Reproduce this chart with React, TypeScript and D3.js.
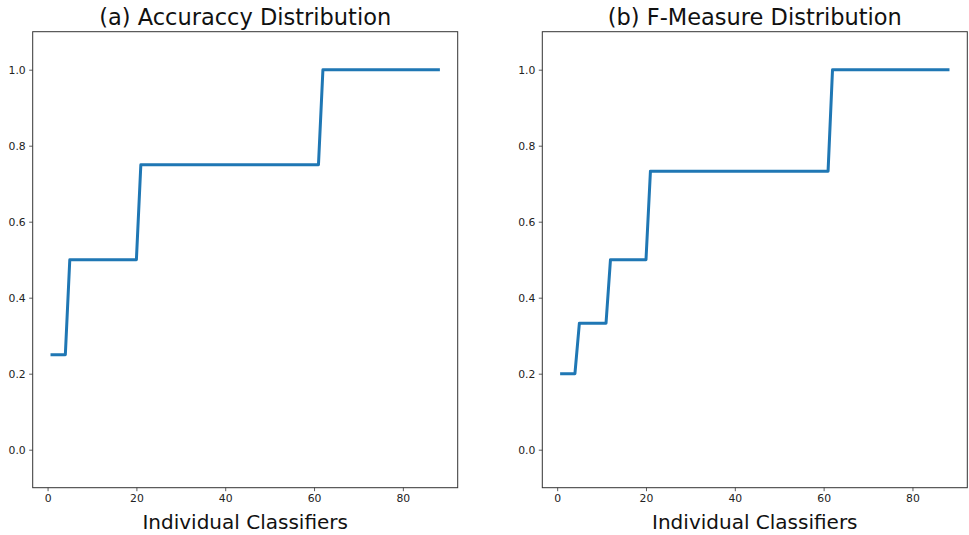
import * as d3 from 'd3';
import React, { useEffect, useRef } from 'react';

// classifier index 1..88
const classifiers = [
  1, 2, 3, 4, 5, 6, 7, 8, 9, 10, 11, 12, 13, 14, 15, 16, 17, 18, 19, 20,
  21, 22, 23, 24, 25, 26, 27, 28, 29, 30, 31, 32, 33, 34, 35, 36, 37, 38, 39, 40,
  41, 42, 43, 44, 45, 46, 47, 48, 49, 50, 51, 52, 53, 54, 55, 56, 57, 58, 59, 60,
  61, 62, 63, 64, 65, 66, 67, 68, 69, 70, 71, 72, 73, 74, 75, 76, 77, 78, 79, 80,
  81, 82, 83, 84, 85, 86, 87, 88,
];

const accuracy = [
  0.25, 0.25, 0.25, 0.25, 0.5, 0.5, 0.5, 0.5, 0.5, 0.5, 0.5, 0.5, 0.5, 0.5, 0.5, 0.5, 0.5, 0.5, 0.5, 0.5,
  0.75, 0.75, 0.75, 0.75, 0.75, 0.75, 0.75, 0.75, 0.75, 0.75, 0.75, 0.75, 0.75, 0.75, 0.75, 0.75, 0.75, 0.75, 0.75, 0.75,
  0.75, 0.75, 0.75, 0.75, 0.75, 0.75, 0.75, 0.75, 0.75, 0.75, 0.75, 0.75, 0.75, 0.75, 0.75, 0.75, 0.75, 0.75, 0.75, 0.75,
  0.75, 1, 1, 1, 1, 1, 1, 1, 1, 1, 1, 1, 1, 1, 1, 1, 1, 1, 1, 1,
  1, 1, 1, 1, 1, 1, 1, 1,
];

const fMeasure = [
  0.2, 0.2, 0.2, 0.2, 0.333, 0.333, 0.333, 0.333, 0.333, 0.333, 0.333, 0.5, 0.5, 0.5, 0.5, 0.5, 0.5, 0.5, 0.5, 0.5,
  0.733, 0.733, 0.733, 0.733, 0.733, 0.733, 0.733, 0.733, 0.733, 0.733, 0.733, 0.733, 0.733, 0.733, 0.733, 0.733, 0.733, 0.733, 0.733, 0.733,
  0.733, 0.733, 0.733, 0.733, 0.733, 0.733, 0.733, 0.733, 0.733, 0.733, 0.733, 0.733, 0.733, 0.733, 0.733, 0.733, 0.733, 0.733, 0.733, 0.733,
  0.733, 1, 1, 1, 1, 1, 1, 1, 1, 1, 1, 1, 1, 1, 1, 1, 1, 1, 1, 1,
  1, 1, 1, 1, 1, 1, 1, 1,
];

const xTicks = [0, 20, 40, 60, 80];
const yTicks = [0, 0.2, 0.4, 0.6, 0.8, 1.0];

const titles = ['(a) Accuraccy Distribution', '(b) F-Measure Distribution'];
const xLabel = 'Individual Classifiers';

const font = 'DejaVu Sans, sans-serif';

export default function App() {
  const ref = useRef<SVGSVGElement>(null);

  useEffect(() => {
    drawChart();
  }, []);

  function drawPanel(svg: any, left: number, values: number[], title: string) {
    const top = 31.7;
    const w = 425;
    const h = 456;

    const g = svg.append('g').attr('transform', `translate(${left},${top})`);

    const xScale = d3.scaleLinear().domain([-3.35, 92.35]).range([0, w]);
    const yScale = d3.scaleLinear().domain([-0.1, 1.1]).range([h, 0]);

    const xAxis = d3.axisBottom(xScale).tickValues(xTicks).tickSize(3.5).tickPadding(3.5).tickFormat(d3.format('d'));
    const yAxis = d3.axisLeft(yScale).tickValues(yTicks).tickSize(3.5).tickPadding(3.5).tickFormat(d3.format('.1f'));

    g.append('g').attr('transform', `translate(0,${h})`).call(xAxis);
    g.append('g').call(yAxis);

    g.selectAll('.domain').remove();
    g.selectAll('.tick line').attr('stroke', '#333').attr('stroke-width', 0.8);
    g.selectAll('.tick text').attr('fill', '#222').style('font-family', font).style('font-size', '10.8px');

    const line = d3.line<number>()
      .x((d, i) => xScale(classifiers[i]))
      .y((d) => yScale(d));

    g.append('path')
      .datum(values)
      .attr('d', line)
      .attr('fill', 'none')
      .attr('stroke', '#1f77b4')
      .attr('stroke-width', 3)
      .attr('stroke-linejoin', 'round')
      .attr('stroke-linecap', 'square');

    // frame
    g.append('rect')
      .attr('x', 0)
      .attr('y', 0)
      .attr('width', w)
      .attr('height', h)
      .attr('fill', 'none')
      .attr('stroke', '#333')
      .attr('stroke-width', 1);

    g.append('text')
      .attr('x', w / 2)
      .attr('y', -6.5)
      .attr('text-anchor', 'middle')
      .style('font-family', font)
      .style('font-size', '22.5px')
      .attr('fill', '#111')
      .text(title);

    g.append('text')
      .attr('x', w / 2)
      .attr('y', h + 41.5)
      .attr('text-anchor', 'middle')
      .style('font-family', font)
      .style('font-size', '20px')
      .attr('fill', '#111')
      .text(xLabel);
  }

  function drawChart() {
    const svg = d3.select(ref.current);
    svg.selectAll('*').remove();
    drawPanel(svg, 32.7, accuracy, titles[0]);
    drawPanel(svg, 542.3, fMeasure, titles[1]);
  }

  return (
    <svg
      ref={ref}
      width={969}
      height={535}
      style={{ position: 'absolute', left: 0, top: 0, background: '#fff' }}
    />
  );
}
